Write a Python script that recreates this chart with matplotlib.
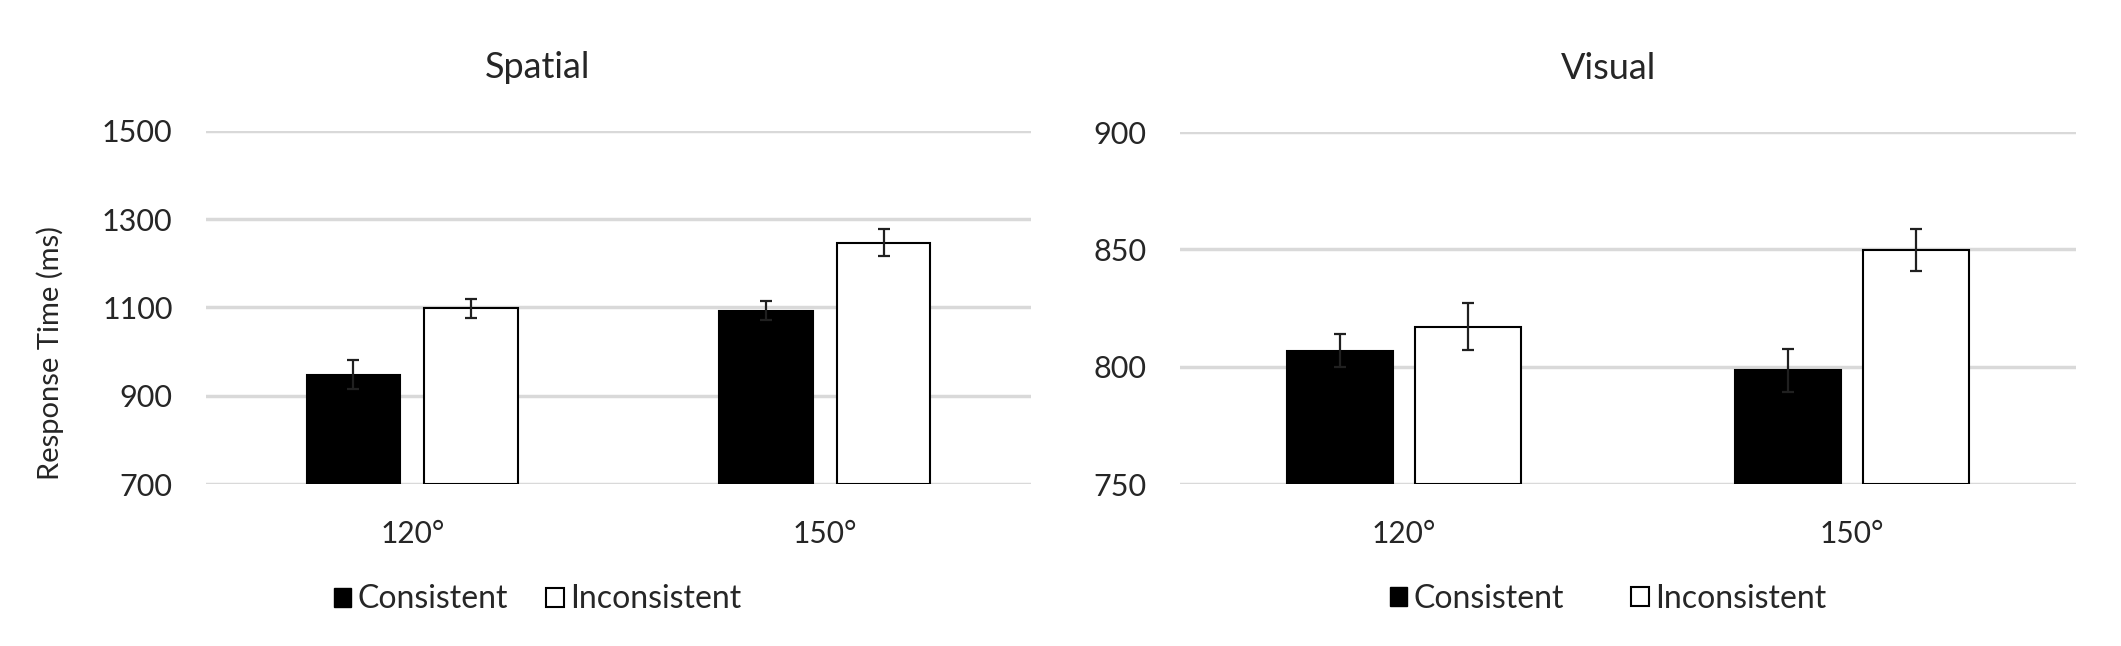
import matplotlib.pyplot as plt
from matplotlib.patches import Patch
import numpy as np

plt.rcParams['font.family'] = ['Lato', 'DejaVu Sans']

categories = ['120°', '150°']
series = ['Consistent', 'Inconsistent']

spatial_consistent = [948, 1093]
spatial_inconsistent = [1098, 1247]
spatial_err_consistent = [32, 22]
spatial_err_inconsistent = [22, 30]

visual_consistent = [806.8, 798.4]
visual_inconsistent = [817.1, 849.7]
visual_err_consistent = [7, 9]
visual_err_inconsistent = [10, 9]

fig = plt.figure(figsize=(21.21, 6.46), dpi=100)
W, H = 2121, 646
TXT = '#262626'


def panel(rect, title, title_x, cons, incons, econs, eincons, ylim, yticks, barw, gap, colsp):
    l, t, r, b = rect
    ax = fig.add_axes([l / W, 1 - b / H, (r - l) / W, (b - t) / H])
    x = np.arange(len(categories))
    off = barw / 2 + gap / 2
    ax.bar(x - off, [c - ylim[0] for c in cons], barw, bottom=ylim[0], color='black',
           edgecolor='black', linewidth=1.5, zorder=2)
    ax.bar(x + off, [c - ylim[0] for c in incons], barw, bottom=ylim[0], color='white',
           edgecolor='black', linewidth=1.5, zorder=2)
    ax.errorbar(x - off, cons, yerr=econs, fmt='none', ecolor='#202020', elinewidth=1.6,
                capsize=4, capthick=1.6, zorder=3)
    ax.errorbar(x + off, incons, yerr=eincons, fmt='none', ecolor='#202020', elinewidth=1.6,
                capsize=4, capthick=1.6, zorder=3)
    ax.set_xlim(-0.5, len(categories) - 0.5)
    ax.set_ylim(ylim)
    ax.set_yticks(yticks)
    ax.set_yticklabels([str(v) for v in yticks])
    ax.set_xticks(x)
    ax.set_xticklabels(categories)
    for s in ax.spines.values():
        s.set_visible(False)
    ax.yaxis.grid(True, color='#d9d9d9', linewidth=2.5, zorder=0)
    ax.set_axisbelow(True)
    ax.tick_params(axis='y', length=0, labelsize=22, colors=TXT, pad=24)
    ax.tick_params(axis='x', length=0, labelsize=21.5, colors=TXT, pad=26)
    ax.set_title(title, fontsize=26, color=TXT, pad=38, x=title_x)
    handles = [Patch(facecolor='black', edgecolor='black', label=series[0]),
               Patch(facecolor='white', edgecolor='black', linewidth=1.5, label=series[1])]
    ax.legend(handles=handles, loc='center', bbox_to_anchor=(title_x, -0.327), ncol=2,
              frameon=False, fontsize=23, handlelength=0.55, handleheight=0.55,
              handletextpad=0.2, columnspacing=colsp, labelcolor=TXT)
    return ax


panel((206, 131, 1031, 484), 'Spatial', 0.402, spatial_consistent, spatial_inconsistent,
      spatial_err_consistent, spatial_err_inconsistent, (700, 1500),
      [700, 900, 1100, 1300, 1500], 0.226, 0.059, 1.2)
panel((1180, 132, 2076, 484), 'Visual', 0.478, visual_consistent, visual_inconsistent,
      visual_err_consistent, visual_err_inconsistent, (750, 900),
      [750, 800, 850, 900], 0.235, 0.051, 2.1)

fig.text(50 / W, 1 - 353 / H, 'Response Time (ms)', rotation=90, ha='center', va='center',
         fontsize=21, color=TXT)

fig.savefig('out.png', dpi=100)
